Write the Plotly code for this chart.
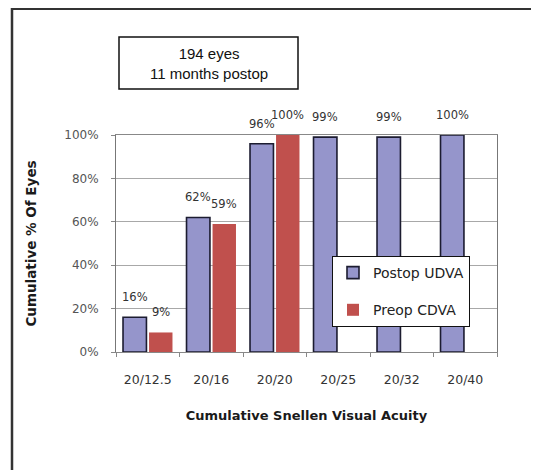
import plotly.graph_objects as go

categories = ["20/12.5", "20/16", "20/20", "20/25", "20/32", "20/40"]
postop_udva = [16, 62, 96, 99, 99, 100]
preop_cdva = [9, 59, 100, None, None, None]
y_ticks = [0, 20, 40, 60, 80, 100]
y_tick_text = ["0%", "20%", "40%", "60%", "80%", "100%"]

FONT = "Verdana, DejaVu Sans, sans-serif"

# the page body puts the figure 8px in from the corner, so work in page pixels
OFF = 8
W, H = 539 - OFF, 470 - OFF
L, R, T, B = 116 - OFF, 497 - OFF, 135 - OFF, 352 - OFF
BARGAP = 0.18
SLOT = (R - L) / len(categories) * (1 - BARGAP) / 2


def px_x(x):
    return (x - OFF - L) / (R - L)


def px_y(y):
    return (B - (y - OFF)) / (B - T)


fig = go.Figure()
fig.add_trace(
    go.Bar(
        x=categories,
        y=postop_udva,
        name="Postop UDVA",
        marker=dict(color="#9595CB", line=dict(color="#1c1c30", width=1.6)),
        legendgroup="a",
    )
)
fig.add_trace(
    go.Bar(
        x=categories,
        y=preop_cdva,
        name="Preop CDVA",
        marker=dict(color="#C0504D", line=dict(width=0)),
        legendgroup="b",
    )
)

# value labels, placed over each bar of the group
for values, side in ((postop_udva, -1), (preop_cdva, 1)):
    for cat, v in zip(categories, values):
        if v is None:
            continue
        fig.add_annotation(
            x=cat, y=v, text=f"{v}%", showarrow=False,
            xshift=side * SLOT / 2, yshift=11, yanchor="bottom",
            font=dict(family=FONT, size=11.5, color="#333333"),
        )

# outer frame (top and left edges) and the "194 eyes" box
fig.add_shape(type="line", xref="paper", yref="paper",
              x0=px_x(12), x1=px_x(560), y0=px_y(9), y1=px_y(9),
              line=dict(color="#333333", width=2))
fig.add_shape(type="line", xref="paper", yref="paper",
              x0=px_x(12), x1=px_x(12), y0=px_y(8), y1=px_y(490),
              line=dict(color="#333333", width=2.5))
fig.add_shape(type="rect", xref="paper", yref="paper",
              x0=px_x(119), x1=px_x(298), y0=px_y(89), y1=px_y(37),
              line=dict(color="#111111", width=1.5), fillcolor="white")
fig.add_annotation(xref="paper", yref="paper", x=px_x(208.5), y=px_y(63),
                   xanchor="center", yanchor="middle",
                   text="194 eyes<br>11 months postop", showarrow=False,
                   font=dict(family="Liberation Sans, Arial, sans-serif", size=15, color="#111111"))

fig.update_layout(
    width=W,
    height=H,
    margin=dict(l=L, r=W - R, t=T, b=H - B, pad=0, autoexpand=False),
    paper_bgcolor="white",
    plot_bgcolor="white",
    barmode="group",
    bargap=BARGAP,
    bargroupgap=0.1,
    showlegend=True,
    legend=dict(
        x=px_x(470), y=px_y(256), xanchor="right", yanchor="top",
        bgcolor="white", bordercolor="#111111", borderwidth=1,
        font=dict(family=FONT, size=14, color="#222222"),
        itemwidth=30, tracegroupgap=16,
    ),
    xaxis=dict(
        showline=True, linecolor="#888888", linewidth=1, mirror=True,
        ticks="outside", tickson="boundaries", ticklen=4, tickcolor="#888888",
        ticklabelstandoff=16,
        tickfont=dict(family=FONT, size=12.5, color="#333333"),
        title=dict(text="<b>Cumulative Snellen Visual Acuity</b>", standoff=24,
                   font=dict(family=FONT, size=13, color="#1a1a1a")),
    ),
    yaxis=dict(
        range=[0, 100], tickvals=y_ticks, ticktext=y_tick_text,
        showline=True, linecolor="#777777", linewidth=1, mirror=True,
        showgrid=True, gridcolor="#a8a8a8", gridwidth=1,
        ticks="outside", ticklen=4, tickcolor="#888888",
        ticklabelstandoff=10,
        tickfont=dict(family=FONT, size=12, color="#555555"),
        title=dict(text="<b>Cumulative % Of Eyes</b>", standoff=24,
                   font=dict(family=FONT, size=13.5, color="#1a1a1a")),
    ),
)

fig.write_html("out.html")
